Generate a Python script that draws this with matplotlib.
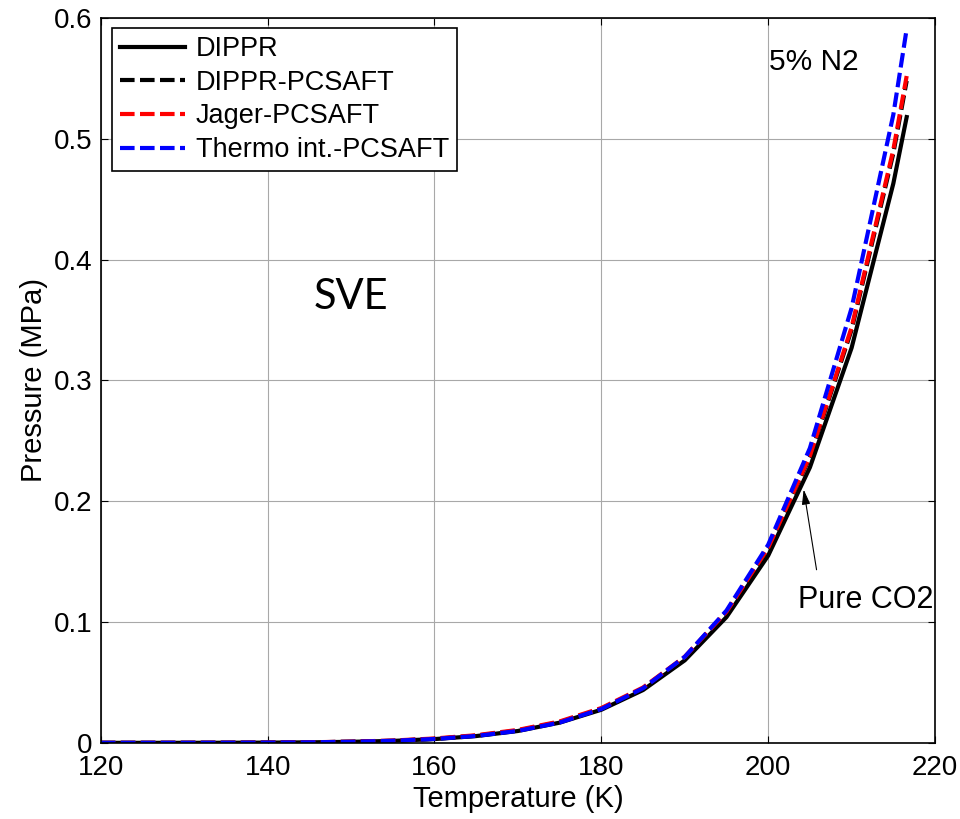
import numpy as np
import matplotlib
matplotlib.use("Agg")
import matplotlib.pyplot as plt

plt.rcParams['font.family'] = ['Liberation Sans', 'DejaVu Sans']

# temperatures (K) and pressures (MPa)
temp = [120, 125, 130, 135, 140, 145, 150, 155, 160, 165, 170,
        175, 180, 185, 190, 195, 200, 205, 210, 215, 216.6]
p_dippr = [0.000004, 0.000012, 0.000033, 0.000083, 0.00019, 0.00041, 0.00085,
           0.0016, 0.0031, 0.0056, 0.0098, 0.0167, 0.0274, 0.0437, 0.0683,
           0.1041, 0.155, 0.228, 0.327, 0.463, 0.518]
p_dippr_pcsaft = [0.000004, 0.000012, 0.000034, 0.000086, 0.0002, 0.00043, 0.0009,
                  0.0017, 0.0033, 0.0059, 0.0102, 0.0172, 0.0282, 0.0452, 0.0708,
                  0.1080, 0.161, 0.2365, 0.342, 0.488, 0.548]
p_jager = [0.000004, 0.000013, 0.000036, 0.00009, 0.00021, 0.00046, 0.00096,
           0.0019, 0.0036, 0.0063, 0.0107, 0.0177, 0.0288, 0.0458, 0.0713,
           0.1085, 0.1615, 0.2375, 0.344, 0.491, 0.552]
p_thermo = [0.000004, 0.000012, 0.000033, 0.000084, 0.00019, 0.00042, 0.00087,
            0.0017, 0.0032, 0.0057, 0.0099, 0.0168, 0.0280, 0.0452, 0.0712,
            0.1095, 0.164, 0.244, 0.360, 0.520, 0.591]

fig = plt.figure(figsize=(9.6, 8.19), dpi=100)
ax = fig.add_axes([0.105, 0.093, 0.869, 0.885])

ax.plot(temp, p_dippr, color='black', lw=3, label='DIPPR')
ax.plot(temp, p_dippr_pcsaft, color='black', lw=3, dashes=(3.5, 1.3), label='DIPPR-PCSAFT')
ax.plot(temp, p_jager, color='red', lw=3, dashes=(3.5, 1.3), label='Jager-PCSAFT')
ax.plot(temp, p_thermo, color='blue', lw=3, dashes=(3.5, 1.3), label='Thermo int.-PCSAFT')

ax.set_xlim(120, 220)
ax.set_ylim(0, 0.6)
ax.set_xticks([120, 140, 160, 180, 200, 220])
ax.set_yticks([0, 0.1, 0.2, 0.3, 0.4, 0.5, 0.6])
ax.set_yticklabels(['0', '0.1', '0.2', '0.3', '0.4', '0.5', '0.6'])
ax.tick_params(direction='in', top=True, right=True, length=5, labelsize=20)
ax.tick_params(axis='x', pad=9)
ax.tick_params(axis='y', pad=6)
ax.grid(True, color='#a8a8a8', lw=0.8)
for s in ax.spines.values():
    s.set_linewidth(1.2)

ax.set_xlabel('Temperature (K)', fontsize=21, labelpad=3)
ax.set_ylabel('Pressure (MPa)', fontsize=21, labelpad=4)

leg = ax.legend(loc='upper left', bbox_to_anchor=(0.013, 0.986), fontsize=19.5,
                fancybox=False, framealpha=1, edgecolor='black', handlelength=2.4,
                borderpad=0.3, labelspacing=0.28, handletextpad=0.4, borderaxespad=0)
leg.get_frame().set_linewidth(1.2)

ax.text(200.1, 0.564, '5% N2', fontsize=21.5, va='center', ha='left')
ax.text(150, 0.369, 'SVE', fontsize=30, family='Lato', va='center', ha='center')
ax.text(203.6, 0.118, 'Pure CO2', fontsize=22, va='center', ha='left')
ax.annotate('', xy=(204.2, 0.212), xytext=(205.85, 0.141),
            arrowprops=dict(arrowstyle='-|>,head_length=0.9,head_width=0.25',
                            color='black', lw=0.8))

fig.savefig('out.png', dpi=100)
